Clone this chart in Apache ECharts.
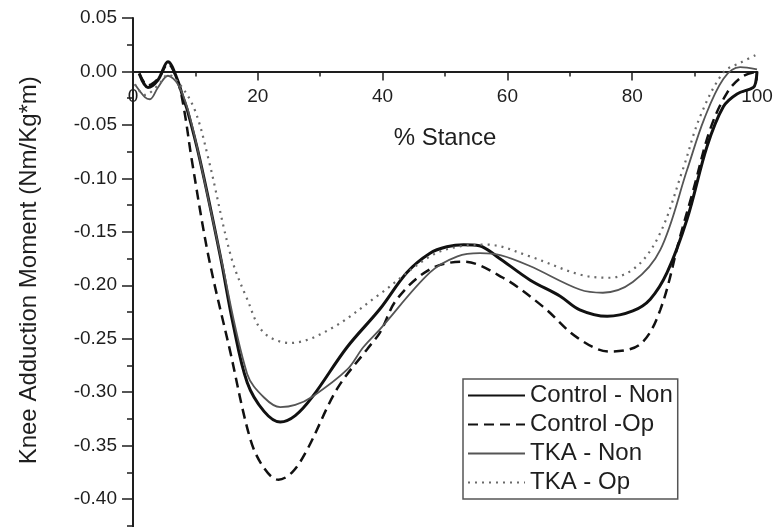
<!DOCTYPE html>
<html>
<head>
<meta charset="utf-8">
<title>Knee Adduction Moment</title>
<script src="https://cdn.jsdelivr.net/npm/echarts@6/dist/echarts.min.js"></script>
<style>
  html, body { margin: 0; padding: 0; background: #fff; }
  #chart { width: 777px; height: 527px; }
</style>
</head>
<body>
<div id="chart"></div>
<script>
// Knee adduction moment over the stance phase (% stance), four groups.
const seriesNames = ['Control - Non', 'Control -Op', 'TKA - Non', 'TKA - Op'];

const controlNonX = [1, 2.4, 4, 5.6, 7.2, 8, 8.7, 10.7, 14, 16, 18.3, 21, 23.6, 26, 28.8, 34.3, 39.6, 43.9, 47.6, 50.3, 53, 55.5, 58.3, 63.6, 68.4, 71.6, 76, 80.1, 82.9, 85.6, 88.8, 92, 94.6, 96.8, 99.4, 99.8, 100];
const controlNonY = [-0.002, -0.015, -0.008, 0.009, -0.009, -0.024, -0.036, -0.082, -0.173, -0.235, -0.291, -0.318, -0.328, -0.322, -0.304, -0.258, -0.222, -0.188, -0.170, -0.164, -0.162, -0.163, -0.173, -0.195, -0.210, -0.223, -0.229, -0.224, -0.213, -0.188, -0.138, -0.070, -0.033, -0.021, -0.015, -0.010, 0.000];

const controlOpX = [1, 2.4, 4, 5.6, 7.2, 8.2, 9.4, 12.1, 15.5, 18.8, 21, 23.3, 25.5, 27.9, 32.7, 37.5, 39.6, 42.3, 47.6, 52.9, 59.3, 65.7, 71.2, 76.4, 81.3, 84.5, 87.7, 89.7, 92.5, 95.2, 97.6, 100];
const controlOpY = [-0.002, -0.013, -0.007, 0.007, -0.010, -0.036, -0.082, -0.173, -0.260, -0.344, -0.371, -0.382, -0.375, -0.354, -0.297, -0.260, -0.244, -0.213, -0.185, -0.178, -0.193, -0.220, -0.249, -0.262, -0.255, -0.223, -0.154, -0.113, -0.054, -0.020, -0.005, 0.000];

const tkaNonX = [0.3, 1.9, 2.7, 4, 5.6, 7.2, 8.8, 10.7, 14, 18.3, 21, 23.6, 26, 28.8, 34.3, 36.9, 39.6, 47.6, 52, 55.6, 59, 63.6, 71.6, 75.3, 80.1, 84.5, 88.8, 91.5, 94.6, 97.3, 100];
const tkaNonY = [-0.012, -0.024, -0.026, -0.015, -0.004, -0.012, -0.036, -0.082, -0.172, -0.283, -0.305, -0.314, -0.312, -0.304, -0.279, -0.258, -0.241, -0.188, -0.173, -0.170, -0.172, -0.182, -0.204, -0.207, -0.197, -0.167, -0.092, -0.045, -0.007, 0.004, 0.002];

const tkaOpX = [0.3, 1.9, 4, 5.6, 7.5, 9.9, 12.1, 15.7, 18.3, 20.9, 25.2, 31.6, 39.6, 47.6, 52, 56.7, 63.6, 71.6, 76.4, 80.8, 84.5, 88.1, 90.9, 94.6, 97.3, 100];
const tkaOpY = [-0.012, -0.022, -0.013, -0.003, -0.012, -0.036, -0.082, -0.173, -0.213, -0.244, -0.254, -0.241, -0.208, -0.173, -0.164, -0.162, -0.173, -0.190, -0.193, -0.182, -0.151, -0.092, -0.042, -0.001, 0.008, 0.016];

const xTicks = { min: 0, max: 100, interval: 20 };
const yTicks = { min: -0.45, max: 0.05, interval: 0.05 };

const pairs = (xs, ys) => xs.map((x, i) => [x, ys[i]]);

const ink = '#1e1e1e';
const font = '"Liberation Sans", Arial, sans-serif';

// plot box: the lowest tick (-0.45) sits just below the visible page
const gridTop = 18;
const gridHeight = 534.5;
const zeroY = gridTop + gridHeight * (yTicks.max - 0) / (yTicks.max - yTicks.min);
const xAxisShift = zeroY - (gridTop + gridHeight); // move the x axis up to y = 0

const lineSeries = (name, data, style) => ({
  name,
  type: 'line',
  data,
  smooth: 0.35,
  symbol: 'none',
  showSymbol: false,
  lineStyle: style,
  itemStyle: { color: style.color },
  emphasis: { disabled: true }
});

const chart = echarts.init(document.getElementById('chart'), null, { renderer: 'canvas' });

chart.setOption({
  animation: false,
  backgroundColor: '#fff',
  textStyle: { fontFamily: font, color: ink },
  grid: {
    left: 133, width: 624, top: gridTop, height: gridHeight,
    containLabel: false, outerBoundsMode: 'none'
  },
  legend: {
    orient: 'vertical',
    left: 463,
    top: 379,
    padding: [2, 5, 2, 4],
    itemWidth: 57,
    itemHeight: 14,
    itemGap: 0,
    backgroundColor: '#fff',
    borderColor: '#555',
    borderWidth: 1.5,
    borderRadius: 0,
    itemStyle: { opacity: 0 },
    data: seriesNames,
    textStyle: { fontFamily: font, fontSize: 24, color: ink, lineHeight: 29 }
  },
  xAxis: {
    type: 'value',
    min: xTicks.min,
    max: xTicks.max,
    interval: xTicks.interval,
    position: 'bottom',
    offset: xAxisShift,
    name: '% Stance',
    nameLocation: 'middle',
    nameGap: 55,
    nameTextStyle: { fontFamily: font, fontSize: 24, color: ink },
    axisLine: { onZero: false, lineStyle: { color: ink, width: 2 } },
    axisTick: { length: 9, lineStyle: { color: ink, width: 1.5 } },
    minorTick: { show: true, splitNumber: 2, length: 5, lineStyle: { color: ink, width: 1.5 } },
    axisLabel: { fontFamily: font, fontSize: 19, color: ink, margin: 16 },
    splitLine: { show: false },
    minorSplitLine: { show: false }
  },
  yAxis: {
    type: 'value',
    min: yTicks.min,
    max: yTicks.max,
    interval: yTicks.interval,
    name: 'Knee Adduction Moment (Nm/Kg*m)',
    nameLocation: 'middle',
    nameGap: 92,
    nameTextStyle: { fontFamily: font, fontSize: 24, color: ink, padding: [0, 0, 0, 30] },
    axisLine: { show: true, lineStyle: { color: ink, width: 2 } },
    axisTick: { show: true, length: 11, lineStyle: { color: ink, width: 1.5 } },
    minorTick: { show: true, splitNumber: 2, length: 6, lineStyle: { color: ink, width: 1.5 } },
    axisLabel: {
      fontFamily: font, fontSize: 19, color: ink, margin: 16,
      formatter: v => (Math.abs(v) < 1e-9 ? 0 : v).toFixed(2)
    },
    splitLine: { show: false },
    minorSplitLine: { show: false }
  },
  series: [
    lineSeries(seriesNames[0], pairs(controlNonX, controlNonY), { color: '#111', width: 3, type: 'solid' }),
    lineSeries(seriesNames[1], pairs(controlOpX, controlOpY), { color: '#111', width: 2.5, type: [10, 6] }),
    lineSeries(seriesNames[2], pairs(tkaNonX, tkaNonY), { color: '#555', width: 1.8, type: 'solid' }),
    lineSeries(seriesNames[3], pairs(tkaOpX, tkaOpY), { color: '#6a6a6a', width: 2.2, type: [2, 5] })
  ]
});
</script>
</body>
</html>
